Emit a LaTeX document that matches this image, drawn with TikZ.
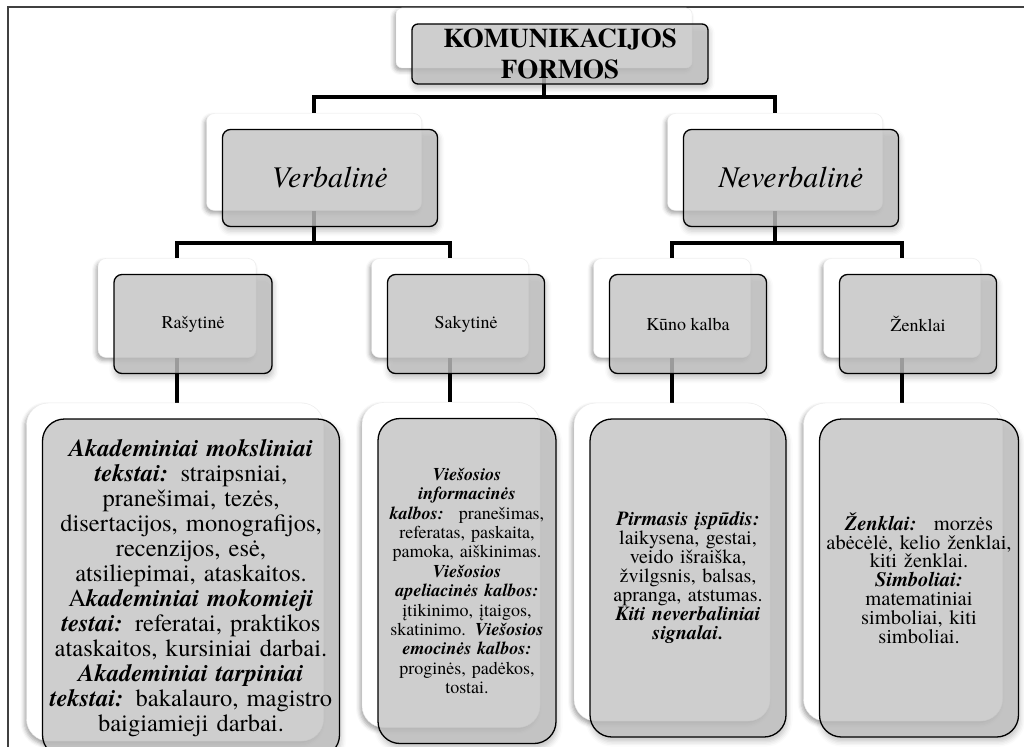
\documentclass[tikz,border=0pt]{standalone}
\usepackage{fontspec}
\setmainfont{texgyretermes}[
  Extension=.otf,
  UprightFont=*-regular,
  BoldFont=*-bold,
  ItalicFont=*-italic,
  BoldItalicFont=*-bolditalic,
]
\usetikzlibrary{
  shadows.blur,
  positioning,
}
\pgfdeclarelayer{behind}
\pgfsetlayers{behind,main}
\newcommand{\kw}[1]{\textbf{\textit{#1}}}

\begin{document}
\begin{tikzpicture}[
  x=1pt, y=-1pt,
  backbox/.style={draw=black!8, fill=white, inner sep=0pt,
    blur shadow={shadow xshift=-2pt, shadow yshift=-3pt, shadow blur radius=4pt, shadow opacity=35}},
  frontbox/.style={draw=black, line width=1.3pt, fill=black!24, fill opacity=0.8,
    text opacity=1, inner sep=0pt, align=center, shift={(16,16)}},
  conn/.style={line width=4pt},
]
\clip (0,0) rectangle (1024,746);
\foreach \name/\cx/\cy/\w/\h/\r in {
  komback/544/38/296/60/6,
  verbback/314/162/215/97/8,
  neverback/775/162/215/97/8,
  rasback/177/308/158/99/8,
  sakback/450/308/157/99/8,
  kunback/672/308/157/99/8,
  zenback/902/308/157/99/8,
  rastxtback/175/572/297/338/22,
  saktxtback/451/565/178/325/22,
  kuntxtback/672/562/196/318/22,
  zentxtback/903/562/199/318/22%
} \node[backbox, minimum width=\w, minimum height=\h, rounded corners=\r pt] (\name) at (\cx,\cy) {};

\node[frontbox, minimum width=296, minimum height=60, rounded corners=6pt,
  font=\fontsize{27}{31}\selectfont\bfseries] (komfront) at (komback) {KOMUNIKACIJOS\\FORMOS};
\node[frontbox, minimum width=215, minimum height=97, rounded corners=8pt,
  font=\fontsize{30}{34}\selectfont\itshape] (verbfront) at (verbback) {Verbalinė};
\node[frontbox, minimum width=215, minimum height=97, rounded corners=8pt,
  font=\fontsize{30}{34}\selectfont\itshape] (neverfront) at (neverback) {Neverbalinė};

\node[frontbox, minimum width=158, minimum height=99, rounded corners=8pt,
  font=\fontsize{18}{22}\selectfont] (rasfront) at (rasback) {Rašytinė};
\node[frontbox, minimum width=157, minimum height=99, rounded corners=8pt,
  font=\fontsize{18}{22}\selectfont] (sakfront) at (sakback) {Sakytinė};
\node[frontbox, minimum width=157, minimum height=99, rounded corners=8pt,
  font=\fontsize{18}{22}\selectfont] (kunfront) at (kunback) {Kūno kalba};
\node[frontbox, minimum width=157, minimum height=99, rounded corners=8pt,
  font=\fontsize{18}{22}\selectfont] (zenfront) at (zenback) {Ženklai};

\node[frontbox, minimum width=297, minimum height=338, rounded corners=22pt, text width=295,
  font=\fontsize{24.5}{25}\selectfont] (rastxt) at (rastxtback) {%
  \kw{Akademiniai moksliniai}\\
  \kw{tekstai:} straipsniai,\\
  pranešimai, tezės,\\
  disertacijos, monografijos,\\
  recenzijos, esė,\\
  atsiliepimai, ataskaitos.\\
  A\kw{kademiniai mokomieji}\\
  \kw{testai:} referatai, praktikos\\
  ataskaitos, kursiniai darbai.\\
  \kw{Akademiniai tarpiniai}\\
  \kw{tekstai:} bakalauro, magistro\\
  baigiamieji darbai.};
\node[frontbox, minimum width=178, minimum height=325, rounded corners=22pt, text width=176,
  font=\fontsize{18}{19.4}\selectfont] (saktxt) at (saktxtback) {%
  \kw{Viešosios}\\
  \kw{informacinės}\\
  \kw{kalbos:}~ pranešimas,\\
  referatas, paskaita,\\
  pamoka, aiškinimas.\\
  \kw{Viešosios}\\
  \kw{apeliacinės kalbos:}\\
  įtikinimo, įtaigos,\\
  skatinimo. \kw{Viešosios}\\
  \kw{emocinės kalbos:}\\
  proginės, padėkos,\\
  tostai.};
\node[frontbox, minimum width=196, minimum height=318, rounded corners=22pt, text width=194,
  font=\fontsize{20}{19}\selectfont] (kuntxt) at (kuntxtback) {%
  \kw{Pirmasis įspūdis:}\\
  laikysena, gestai,\\
  veido išraiška,\\
  žvilgsnis, balsas,\\
  apranga, atstumas.\\
  \kw{Kiti neverbaliniai}\\
  \kw{signalai.}};
\node[frontbox, minimum width=199, minimum height=318, rounded corners=22pt, text width=197,
  font=\fontsize{20.5}{18.8}\selectfont] (zentxt) at (zentxtback) {%
  \kw{Ženklai:}~ morzės\\
  abėcėlė, kelio ženklai,\\
  kiti ženklai.\\
  \kw{Simboliai:}\\
  matematiniai\\
  simboliai, kiti\\
  simboliai.};

\begin{pgfonlayer}{behind}
  \draw[line width=1.5pt, black!75] (8,7) rectangle (1040,770);
  \draw[conn] (komback.south) -- ++(0,29) -| (verbback.north);
  \draw[conn] (komback.south) -- ++(0,29) -| (neverback.north);
  \draw[conn] (verbback.south) -- ++(0,32) -| (rasback.north);
  \draw[conn] (verbback.south) -- ++(0,32) -| (sakback.north);
  \draw[conn] (neverback.south) -- ++(0,32) -| (kunback.north);
  \draw[conn] (neverback.south) -- ++(0,32) -| (zenback.north);
  \draw[conn] (rasback.south) -- (rasback.south |- rastxtback.north);
  \draw[conn] (sakback.south) -- (sakback.south |- saktxtback.north);
  \draw[conn] (kunback.south) -- (kunback.south |- kuntxtback.north);
  \draw[conn] (zenback.south) -- (zenback.south |- zentxtback.north);
  % soft shadow under the grey boxes
  \foreach \n/\r in {komfront/6, verbfront/8, neverfront/8, rasfront/8, sakfront/8,
    kunfront/8, zenfront/8, rastxt/22, saktxt/22, kuntxt/22, zentxt/22}
    \path[rounded corners=\r pt,
      blur shadow={shadow xshift=1pt, shadow yshift=-4pt, shadow blur radius=5pt, shadow opacity=22}]
      (\n.north west) rectangle (\n.south east);
\end{pgfonlayer}
\end{tikzpicture}
\end{document}
